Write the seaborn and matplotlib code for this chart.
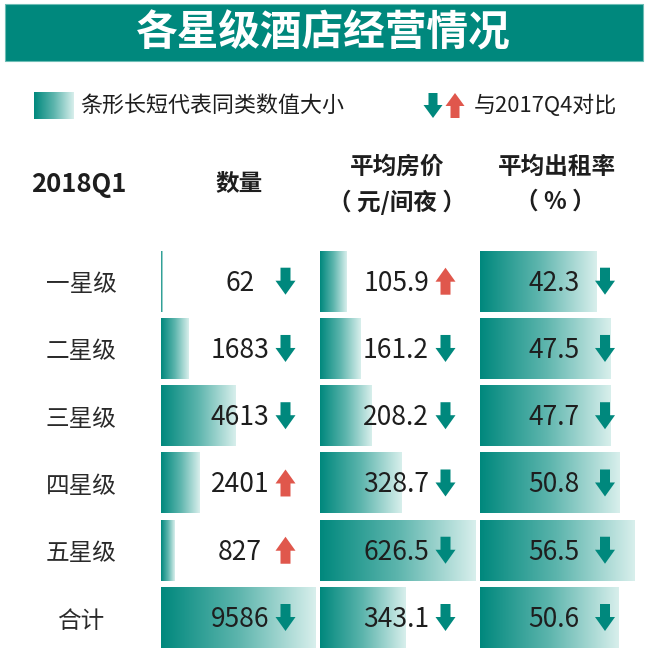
import numpy as np
import pandas as pd
import matplotlib
matplotlib.use('Agg')
import matplotlib.pyplot as plt
import seaborn as sns
from matplotlib.colors import LinearSegmentedColormap
from matplotlib.patches import Rectangle, Polygon

sns.set_theme(style='white')
plt.rcParams['font.family'] = ['Noto Sans CJK SC', 'DejaVu Sans']

# ---------------- data ----------------
title = '各星级酒店经营情况'
period = '2018Q1'
categories = ['一星级', '二星级', '三星级', '四星级', '五星级', '合计']
header_count = '数量'
header_price = ['平均房价', '（ 元/间夜 ）']
header_occ = ['平均出租率', '（ % ）']
count = [62, 1683, 4613, 2401, 827, 9586]
price = [105.9, 161.2, 208.2, 328.7, 626.5, 343.1]
occupancy = [42.3, 47.5, 47.7, 50.8, 56.5, 50.6]
count_dir = ['down', 'down', 'down', 'up', 'up', 'down']
price_dir = ['up', 'down', 'down', 'down', 'down', 'down']
occ_dir = ['down', 'down', 'down', 'down', 'down', 'down']
legend_bar = '条形长短代表同类数值大小'
legend_arrow = '与2017Q4对比'

# ---------------- style ----------------
TEAL = '#00887D'
RED = '#E0574C'
LIGHT = '#D8EFEC'
TXT = '#1E1E1E'
cmap = LinearSegmentedColormap.from_list('tealgrad', [TEAL, '#5DB5AD', LIGHT])
grad = np.linspace(0, 1, 256).reshape(1, -1)

W, H = 650, 655
fig = plt.figure(figsize=(W / 100, H / 100), dpi=100)
fig.patch.set_facecolor('white')

row0 = 281.2
step = 67.26
ax_top = row0 - step / 2
ax_h = step * 6

columns = [
    dict(vals=count, dirs=count_dir, left=161, width=155, fmt='{:d}', tx=240, ax_x=285.5),
    dict(vals=price, dirs=price_dir, left=320, width=156, fmt='{:.1f}', tx=396, ax_x=445.5),
    dict(vals=occupancy, dirs=occ_dir, left=480, width=155, fmt='{:.1f}', tx=554, ax_x=605),
]

for col in columns:
    ax = fig.add_axes([col['left'] / W, 1 - (ax_top + ax_h) / H, col['width'] / W, ax_h / H])
    df = pd.DataFrame({'cat': categories, 'val': col['vals']})
    sns.barplot(data=df, x='val', y='cat', orient='h', ax=ax, color=TEAL, width=0.905)
    for p in list(ax.patches):
        x0, y0 = p.get_x(), p.get_y()
        w, h = p.get_width(), p.get_height()
        p.set_visible(False)
        ax.imshow(grad, extent=[x0, x0 + w, y0 + h, y0], aspect='auto', cmap=cmap,
                  interpolation='bilinear', zorder=2)
    ax.set_xlim(0, max(col['vals']))
    ax.set_ylim(5.5, -0.5)
    ax.set_axis_off()

# ---------------- overlay (text, arrows, banner) ----------------
ov = fig.add_axes([0, 0, 1, 1])
ov.set_xlim(0, W)
ov.set_ylim(H, 0)
ov.set_axis_off()
ov.patch.set_alpha(0)


def arrow(cx, cy, direction, height=27, sw=5, hw=10, hh=14):
    top, bot = cy - height / 2, cy + height / 2
    if direction == 'down':
        pts = [(cx - sw, top), (cx + sw, top), (cx + sw, bot - hh), (cx + hw, bot - hh),
               (cx, bot), (cx - hw, bot - hh), (cx - sw, bot - hh)]
        c = TEAL
    else:
        pts = [(cx - sw, bot), (cx + sw, bot), (cx + sw, top + hh), (cx + hw, top + hh),
               (cx, top), (cx - hw, top + hh), (cx - sw, top + hh)]
        c = RED
    ov.add_patch(Polygon(pts, closed=True, facecolor=c, edgecolor='none', zorder=5))


# banner
ov.add_patch(Rectangle((5, 4), 638, 57, facecolor=TEAL, edgecolor='#6DBDB5', lw=0.8, zorder=1))
ov.text(323, 33, title, color='white', fontsize=30, fontweight='bold', ha='center', va='center', zorder=2)

# legend
ov.imshow(grad, extent=[34, 74, 119, 92], aspect='auto', cmap=cmap, interpolation='bilinear', zorder=2)
ov.text(80, 105.5, legend_bar, fontsize=15.8, color=TXT, ha='left', va='center')
arrow(433, 105.5, 'down', height=25, sw=4.5, hw=9.5, hh=13)
arrow(455, 105.5, 'up', height=25, sw=4.5, hw=9.5, hh=13)
ov.text(474, 105.5, legend_arrow, fontsize=15.8, color=TXT, ha='left', va='center')

# headers
ov.text(79, 184, period, fontsize=18.5, fontweight='bold', color=TXT, ha='center', va='center')
ov.text(239, 184, header_count, fontsize=17, fontweight='bold', color=TXT, ha='center', va='center')
ov.text(397, 167, header_price[0], fontsize=17, fontweight='bold', color=TXT, ha='center', va='center')
ov.text(397, 202, header_price[1], fontsize=17, fontweight='bold', color=TXT, ha='center', va='center')
ov.text(557, 167, header_occ[0], fontsize=17, fontweight='bold', color=TXT, ha='center', va='center')
ov.text(555, 202, header_occ[1], fontsize=17, fontweight='bold', color=TXT, ha='center', va='center')

# rows
for i, cat in enumerate(categories):
    cy = row0 + i * step
    ov.text(81, cy + 3.5, cat, fontsize=17, color='#2A2A2A', ha='center', va='center')
    for col in columns:
        v = col['vals'][i]
        ov.text(col['tx'], cy + 2, col['fmt'].format(v), fontsize=19, color=TXT,
                ha='center', va='center', zorder=6)
        arrow(col['ax_x'], cy, col['dirs'][i])

fig.savefig('out.png', dpi=100, facecolor='white')
